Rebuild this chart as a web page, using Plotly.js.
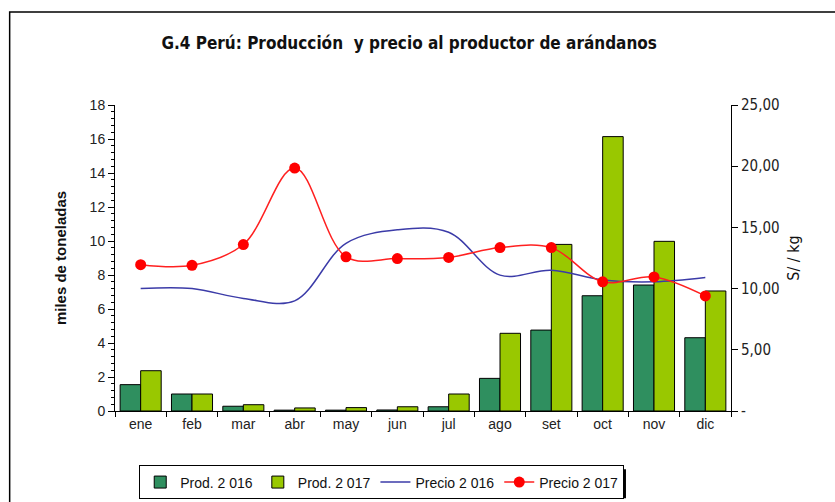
<!DOCTYPE html>
<html>
<head>
<meta charset="utf-8">
<script src="https://cdn.plot.ly/plotly-3.0.1.min.js"></script>
<style>
  html, body { margin: 0; padding: 0; background: #fff; }
  #chart { width: 835px; height: 502px; }
</style>
</head>
<body>
<div id="chart"></div>
<script>
// meses
let months = ['ene', 'feb', 'mar', 'abr', 'may', 'jun', 'jul', 'ago', 'set', 'oct', 'nov', 'dic'];

// produccion, miles de toneladas
let prod2016 = [1.55, 1.0, 0.28, 0.05, 0.05, 0.06, 0.25, 1.92, 4.76, 6.78, 7.41, 4.31];
let prod2017 = [2.37, 1.0, 0.37, 0.18, 0.2, 0.25, 1.0, 4.57, 9.8, 16.14, 9.98, 7.06];

// precio al productor, S/ por kg
let precio2016 = [10.0, 10.0, 9.2, 9.0, 13.7, 14.8, 14.6, 11.1, 11.5, 10.7, 10.55, 10.9];
let precio2017 = [11.95, 11.9, 13.6, 19.85, 12.6, 12.45, 12.55, 13.35, 13.35, 10.55, 10.95, 9.4];

let rightTicks = [0, 5, 10, 15, 20, 25];
let rightLabels = ['-', '5,00', '10,00', '15,00', '20,00', '25,00'];

let narrow = 'Liberation Sans Narrow, DejaVu Sans Condensed, sans-serif';

let traces = [
    {
        x: months, y: prod2016, type: 'bar', name: 'Prod. 2 016',
        marker: { color: '#2f8f5f', line: { color: '#000', width: 1 } }
    },
    {
        x: months, y: prod2017, type: 'bar', name: 'Prod. 2 017',
        marker: { color: '#99c800', line: { color: '#000', width: 1 } }
    },
    {
        x: months, y: precio2016, type: 'scatter', mode: 'lines', name: 'Precio 2 016',
        yaxis: 'y2', line: { color: '#3b3ba8', width: 1.5, shape: 'spline', smoothing: 1 }
    },
    {
        x: months, y: precio2017, type: 'scatter', mode: 'lines+markers', name: 'Precio 2 017',
        yaxis: 'y2', line: { color: '#ff2020', width: 1.5, shape: 'spline', smoothing: 1 },
        marker: { color: '#ff0000', size: 11 }
    }
];

let layout = {
    width: 835,
    height: 502,
    margin: { l: 115, r: 104, t: 105, b: 91, autoexpand: false },
    paper_bgcolor: '#fff',
    plot_bgcolor: 'rgba(0,0,0,0)',
    font: { family: 'Liberation Sans, Arial, sans-serif', size: 14, color: '#222' },
    title: {
        text: '<b>G.4 Perú: Producción  y precio al productor de arándanos</b>',
        font: { family: narrow, size: 17, color: '#111' },
        x: 0.49, xanchor: 'center', y: 0.915, yanchor: 'middle'
    },
    barmode: 'group',
    bargap: 0.2,
    bargroupgap: 0,
    showlegend: true,
    legend: {
        orientation: 'h',
        x: 0.433, xanchor: 'center',
        y: -0.178, yanchor: 'top',
        bgcolor: '#fff',
        bordercolor: '#000',
        borderwidth: 1,
        font: { family: 'Liberation Sans, Arial, sans-serif', size: 14, color: '#111' },
        traceorder: 'normal'
    },
    xaxis: {
        range: [-0.5, 11.5],
        showline: true, linecolor: '#000', linewidth: 1,
        ticks: 'outside', ticklen: 5, tickcolor: '#000',
        tickson: 'boundaries',
        showgrid: false,
        tickfont: { size: 14, color: '#222' }
    },
    yaxis: {
        range: [0, 18],
        dtick: 2,
        showline: true, linecolor: '#000', linewidth: 1,
        ticks: 'outside', ticklen: 6, tickcolor: '#000',
        showgrid: false, zeroline: false,
        minor: { dtick: 0.4, ticks: 'outside', ticklen: 3, tickcolor: '#000' },
        title: {
            text: '<b>miles de toneladas</b>',
            font: { size: 15, color: '#111' },
            standoff: 19
        }
    },
    yaxis2: {
        overlaying: 'y',
        side: 'right',
        range: [0, 25],
        tickvals: rightTicks,
        ticktext: rightLabels,
        showline: true, linecolor: '#000', linewidth: 1,
        ticks: 'outside', ticklen: 6, tickcolor: '#000',
        showgrid: false, zeroline: false,
        tickfont: { family: narrow, size: 15, color: '#222' },
        title: {
            text: 'S/ / kg',
            font: { family: narrow, size: 16, color: '#111' },
            standoff: 9
        }
    },
    shapes: [
        // marco exterior
        {
            type: 'rect', xref: 'paper', yref: 'paper', layer: 'below',
            x0: -0.171, x1: 1.3, y0: -0.6, y1: 1.304,
            line: { color: '#000', width: 1.5 }
        },
        // sombra de la leyenda
        {
            type: 'rect', xref: 'paper', yref: 'paper', layer: 'below',
            x0: 0.046, x1: 0.8295, y0: -0.285, y1: -0.19,
            fillcolor: '#000', line: { width: 0 }
        }
    ]
};

Plotly.newPlot('chart', traces, layout, { displayModeBar: false, staticPlot: true });
</script>
</body>
</html>
